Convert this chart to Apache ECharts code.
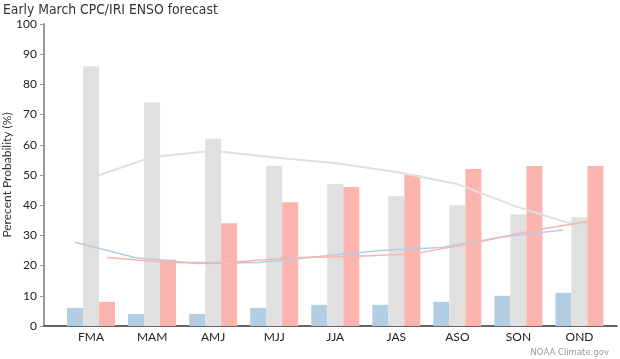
<!DOCTYPE html>
<html>
<head>
<meta charset="utf-8">
<script src="https://cdn.jsdelivr.net/npm/echarts@6/dist/echarts.min.js"></script>
<style>
  html, body { margin: 0; padding: 0; background: #fff; }
  #chart { width: 620px; height: 359px; }
</style>
</head>
<body>
<div id="chart"></div>
<script>
// seasons (3-month periods)
var seasons = ['FMA', 'MAM', 'AMJ', 'MJJ', 'JJA', 'JAS', 'ASO', 'SON', 'OND'];

// forecast probabilities (%)
var laNina  = [6, 4, 4, 6, 7, 7, 8, 10, 11];
var neutral = [86, 74, 62, 53, 47, 43, 40, 37, 36];
var elNino  = [8, 22, 34, 41, 46, 50, 52, 53, 53];

// climatological probabilities (%)
var climLaNina  = [27.7, 22.6, 20.7, 21.0, 23.0, 25.0, 26.0, 29.5, 31.8];
var climNeutral = [49.0, 56.0, 58.0, 55.8, 54.0, 51.0, 47.0, 39.3, 33.0];
var climElNino  = [22.7, 21.0, 21.0, 22.6, 23.0, 23.8, 27.5, 31.7, 35.0];

var yTicks = { min: 0, max: 100, step: 10 };

var FONT = 'Lato';
var TITLE_FONT = "'Liberation Sans Narrow', 'DejaVu Sans Condensed', Lato";
var C_BLUE = '#b3cde3', C_GREY = '#e0e0e0', C_RED = '#fbb4ae';

// line points sit on the bar of their own kind: shift by one bar width
var shift = 16 / 61.06;
function toPoints(arr, off) {
    var res = [];
    for (var i = 0; i < arr.length; i++) {
        res.push([i + off, arr[i]]);
    }
    return res;
}

var chart = echarts.init(document.getElementById('chart'));

var option = {
    animation: false,
    backgroundColor: '#fff',
    textStyle: { fontFamily: FONT },
    title: [{
        text: 'Early March CPC/IRI ENSO forecast',
        left: 3,
        top: 3,
        padding: 0,
        textStyle: { fontFamily: TITLE_FONT, fontSize: 13.8, fontWeight: 'normal', color: '#333' }
    }, {
        text: 'NOAA Climate.gov',
        right: 11,
        bottom: 2,
        padding: 0,
        textStyle: { fontFamily: 'DejaVu Sans', fontSize: 8.5, fontWeight: 'normal', color: '#999' }
    }],
    grid: [
        // axis frame (y axis + full-width baseline)
        { left: 44, right: 3, top: 24, bottom: 33, outerBoundsMode: 'none' },
        // data area
        { left: 60.5, right: 10, top: 24, bottom: 33, outerBoundsMode: 'none' }
    ],
    xAxis: [{
        gridIndex: 0,
        type: 'value',
        min: 0,
        max: 1,
        axisLine: { show: true, lineStyle: { color: '#333', width: 1.5 } },
        axisTick: { show: false },
        axisLabel: { show: false },
        splitLine: { show: false }
    }, {
        gridIndex: 1,
        type: 'category',
        data: seasons,
        axisLine: { show: false },
        axisTick: { show: false },
        axisLabel: { color: '#222', fontSize: 12, margin: 5, fontFamily: FONT },
        splitLine: { show: false }
    }, {
        gridIndex: 1,
        type: 'value',
        min: -0.5,
        max: seasons.length - 0.5,
        show: false
    }],
    yAxis: [{
        gridIndex: 0,
        type: 'value',
        min: yTicks.min,
        max: yTicks.max,
        interval: yTicks.step,
        name: 'Perecent Probability (%)',
        nameLocation: 'middle',
        nameRotate: 90,
        nameGap: 31,
        nameMoveOverlap: false,
        nameTextStyle: { color: '#333', fontSize: 12, fontFamily: FONT },
        axisLine: { show: true, lineStyle: { color: '#999', width: 2 } },
        axisTick: { show: true, length: 4, lineStyle: { color: '#999' } },
        axisLabel: { color: '#222', fontSize: 12, margin: 7, fontFamily: FONT },
        splitLine: { show: false }
    }, {
        gridIndex: 1,
        type: 'value',
        min: yTicks.min,
        max: yTicks.max,
        show: false
    }],
    series: [
        {
            name: 'La Niña', type: 'bar', xAxisIndex: 1, yAxisIndex: 1,
            data: laNina, barWidth: 16, barGap: '0%', z: 2,
            itemStyle: { color: C_BLUE }
        },
        {
            name: 'Neutral', type: 'bar', xAxisIndex: 1, yAxisIndex: 1,
            data: neutral, barWidth: 16, barGap: '0%', z: 2,
            itemStyle: { color: C_GREY }
        },
        {
            name: 'El Niño', type: 'bar', xAxisIndex: 1, yAxisIndex: 1,
            data: elNino, barWidth: 16, barGap: '0%', z: 2,
            itemStyle: { color: C_RED }
        },
        {
            name: 'Climatology Neutral', type: 'line', xAxisIndex: 2, yAxisIndex: 1,
            data: toPoints(climNeutral, 0), symbol: 'none', z: 4,
            lineStyle: { color: C_GREY, width: 2 }
        },
        {
            name: 'Climatology La Niña', type: 'line', xAxisIndex: 2, yAxisIndex: 1,
            data: toPoints(climLaNina, -shift), symbol: 'none', z: 4,
            lineStyle: { color: C_BLUE, width: 1.5 }
        },
        {
            name: 'Climatology El Niño', type: 'line', xAxisIndex: 2, yAxisIndex: 1,
            data: toPoints(climElNino, shift), symbol: 'none', z: 4,
            lineStyle: { color: C_RED, width: 1.5 }
        }
    ]
};

chart.setOption(option);
</script>
</body>
</html>
